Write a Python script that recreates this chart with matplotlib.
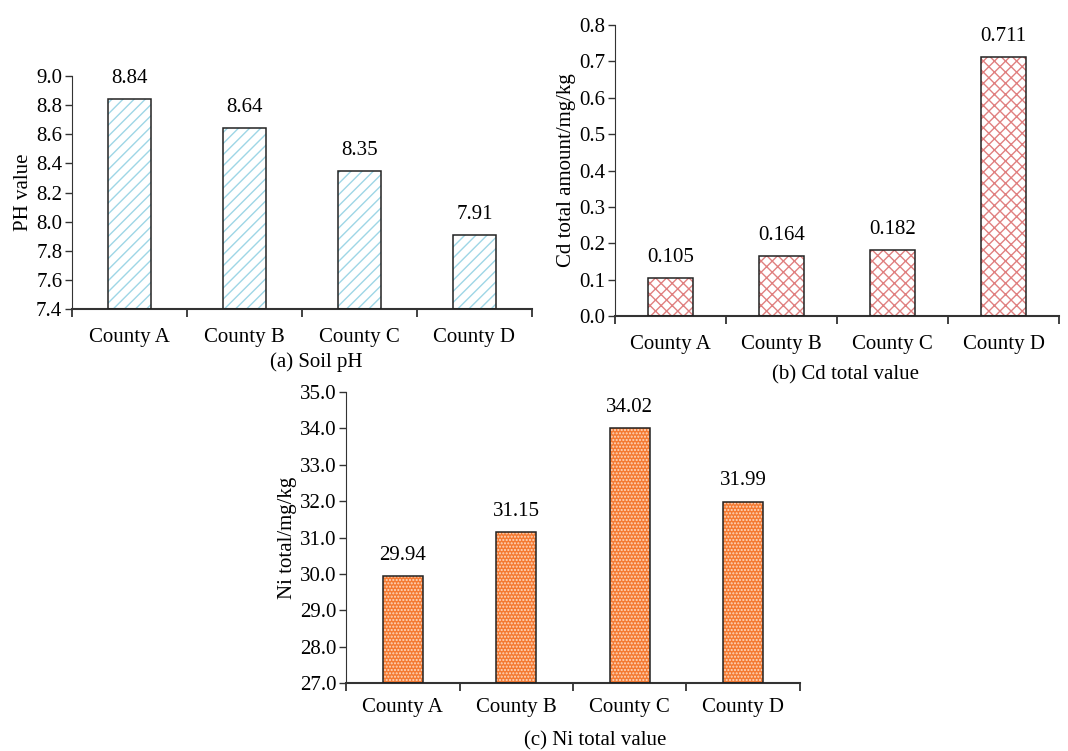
import matplotlib
matplotlib.use("Agg")
import matplotlib.pyplot as plt
import numpy as np

plt.rcParams['font.family'] = ['Liberation Serif', 'DejaVu Serif']
plt.rcParams['hatch.linewidth'] = 1.0

counties = ["County A", "County B", "County C", "County D"]
ph_values = [8.84, 8.64, 8.35, 7.91]
cd_values = [0.105, 0.164, 0.182, 0.711]
ni_values = [29.94, 31.15, 34.02, 31.99]

ph_labels = ["8.84", "8.64", "8.35", "7.91"]
cd_labels = ["0.105", "0.164", "0.182", "0.711"]
ni_labels = ["29.94", "31.15", "34.02", "31.99"]

FS = 15

fig = plt.figure(figsize=(10.68, 7.51), dpi=100)

def panel(rect, values, labels, ylim, yticks, yfmt, ylabel,
          width, face, hatch, hatchcol, tick_pad=10):
    ax = fig.add_axes(rect)
    x = np.arange(len(values))
    base = ylim[0]
    heights = [v - base for v in values]
    ax.bar(x, heights, width=width, bottom=base, color=face, edgecolor=hatchcol,
           hatch=hatch, linewidth=0, zorder=2)
    ax.bar(x, heights, width=width, bottom=base, fill=False, edgecolor='#222222',
           linewidth=1.1, zorder=3)
    for xi, v, lab in zip(x, values, labels):
        ax.annotate(lab, (xi, v), xytext=(0, 8), textcoords='offset points',
                    ha='center', va='bottom', fontsize=FS)
    ax.set_xlim(-0.5, len(values) - 0.5)
    ax.set_ylim(*ylim)
    ax.set_yticks(yticks)
    ax.set_yticklabels([yfmt.format(t) for t in yticks], fontsize=FS)
    ax.set_xticks(np.arange(len(values) + 1) - 0.5)
    ax.set_xticklabels([])
    ax.set_xticks(x, minor=True)
    ax.set_xticklabels(counties, minor=True, fontsize=FS)
    ax.tick_params(axis='x', which='major', direction='out', length=6, width=1.3, color='#333333')
    ax.tick_params(axis='x', which='minor', length=0, pad=tick_pad)
    ax.tick_params(axis='y', direction='out', length=5, width=1.0, color='#333333', pad=2)
    for s in ['top', 'right']:
        ax.spines[s].set_visible(False)
    ax.spines['left'].set_color('#333333')
    ax.spines['bottom'].set_color('#333333')
    ax.spines['bottom'].set_linewidth(1.5)
    ax.set_ylabel(ylabel, fontsize=FS, labelpad=2)
    return ax

axa = panel([0.0674, 0.5885, 0.4306, 0.3103], ph_values, ph_labels, (7.4, 9.0),
            np.round(np.arange(7.4, 9.01, 0.2), 1), "{:.1f}", "PH value",
            0.38, 'white', '///', '#9ed6e6', tick_pad=14)
axb = panel([0.5758, 0.5792, 0.4158, 0.3875], cd_values, cd_labels, (0.0, 0.8),
            np.round(np.arange(0.0, 0.81, 0.1), 1), "{:.1f}", "Cd total amount/mg/kg",
            0.40, 'white', 'xxx', '#e08080', tick_pad=14)
axc = panel([0.324, 0.0905, 0.425, 0.3875], ni_values, ni_labels, (27.0, 35.0),
            np.arange(27.0, 35.01, 1.0), "{:.1f}", "Ni total/mg/kg",
            0.35, '#f47a32', '.....', '#ffd9c0', tick_pad=11)

fig.text(316 / 1068, 1 - 362 / 751, "(a) Soil pH", ha='center', va='center', fontsize=FS)
fig.text(846 / 1068, 1 - 375 / 751, "(b) Cd total value", ha='center', va='center', fontsize=FS)
fig.text(595 / 1068, 1 - 741 / 751, "(c) Ni total value", ha='center', va='center', fontsize=FS)

fig.savefig("out.png", dpi=100)
